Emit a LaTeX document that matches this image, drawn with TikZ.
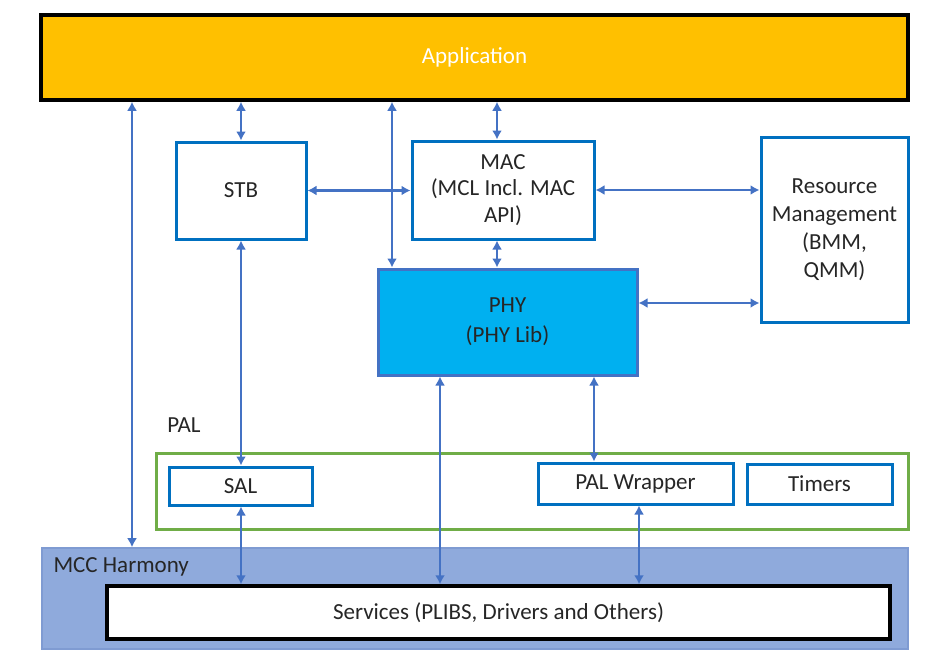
\documentclass[tikz,border=0pt]{standalone}
\usepackage{fontspec}
\setmainfont{Carlito}
\usetikzlibrary{arrows.meta}

\definecolor{appyellow}{HTML}{FFC000}
\definecolor{boxblue}{HTML}{0070C0}
\definecolor{arrowblue}{HTML}{4472C4}
\definecolor{phyfill}{HTML}{00B0F0}
\definecolor{palgreen}{HTML}{70AD47}
\definecolor{mccfill}{HTML}{8FAADC}
\definecolor{mccline}{HTML}{7F9BD2}
\definecolor{textgray}{HTML}{262626}

\tikzset{
  block/.style={draw=boxblue, line width=3pt, fill=white, inner sep=0pt,
    align=center, text=textgray},
  link/.style={<->, draw=arrowblue, line width=2.8pt},
}

\begin{document}
\begin{tikzpicture}[x=1pt, y=-1pt, >={Latex[length=9pt,width=10pt]},
  every node/.style={font=\fontsize{23}{28}\selectfont}]
    % Seitenrahmen
    \useasboundingbox (0,0) rectangle (945,669);

    % MCC Harmony und Services
    \node[draw=mccline, fill=mccfill, line width=1.6pt, minimum width=866pt,
      minimum height=101pt, inner sep=0pt] (mcc) at (475,598.5) {};
    \node[anchor=west, text=textgray] (mcclbl) at (50,567) {MCC Harmony};
    \node[draw=black, fill=white, line width=3.5pt, minimum width=783pt,
      minimum height=53pt, inner sep=0pt, text=textgray] (svc) at (498.5,612.5)
      {Services (PLIBS, Drivers and Others)};

    % PAL
    \node[draw=palgreen, line width=3pt, minimum width=752pt,
      minimum height=76pt, inner sep=0pt] (pal) at (532,491) {};
    \node[text=textgray] (pallbl) at (184,425) {PAL};
    \node[block, minimum width=143pt, minimum height=38pt] (sal) at (240.5,486) {SAL};
    \node[block, minimum width=195pt, minimum height=41pt] (wrap) at (635.5,483.5) {PAL Wrapper};
    \node[block, minimum width=145pt, minimum height=40pt] (timers) at (819.5,484) {Timers};

    % Application
    \node[draw=black, fill=appyellow, line width=3.5pt, minimum width=867pt,
      minimum height=85pt, inner sep=0pt, text=white] (app) at (474.5,57.5) {Application};

    % Bloecke in der Mitte
    \node[block, minimum width=130pt, minimum height=97pt] (stb) at (241,190.5) {STB};
    \node[block, minimum width=182pt, minimum height=98pt] (mac) at (503,190)
      {MAC\\[-1.5pt](MCL Incl. MAC\\[-1.5pt]API)};
    \node[block, minimum width=147pt, minimum height=185pt] (rm) at (834.5,229.5)
      {Resource\\Management\\(BMM,\\QMM)};
    \node[block, draw=arrowblue, fill=phyfill, minimum width=259pt,
      minimum height=106pt] (phy) at (507.5,322) {PHY\\[2pt](PHY Lib)};

    % Hilfspunkte fuer die Pfeile
    \coordinate (xl) at (132,0);
    \coordinate (xphy) at (392,0);
    \coordinate (xmac) at (497,0);
    \coordinate (xsvc) at (440,0);
    \coordinate (xwrap) at (594,0);
    \coordinate (xwrb) at (639,0);
    \coordinate (yrm) at (0,303);

    % Pfeile
    \draw[link] (app.south -| xl) -- (mcc.north -| xl);
    \draw[link] (app.south -| stb) -- (stb.north);
    \draw[link] (app.south -| xphy) -- (phy.north -| xphy);
    \draw[link] (app.south -| xmac) -- (mac.north -| xmac);
    \draw[link] (stb.east) -- (stb.east -| mac.west);
    \draw[link] (mac.east) -- (mac.east -| rm.west);
    \draw[link] (mac.south -| xmac) -- (phy.north -| xmac);
    \draw[link] (phy.east |- yrm) -- (rm.west |- yrm);
    \draw[link] (stb.south) -- (sal.north -| stb);
    \draw[link] (phy.south -| xsvc) -- (svc.north -| xsvc);
    \draw[link] (phy.south -| xwrap) -- (wrap.north -| xwrap);
    \draw[link] (sal.south -| stb) -- (svc.north -| stb);
    \draw[link] (wrap.south -| xwrb) -- (svc.north -| xwrb);

\end{tikzpicture}
\end{document}
